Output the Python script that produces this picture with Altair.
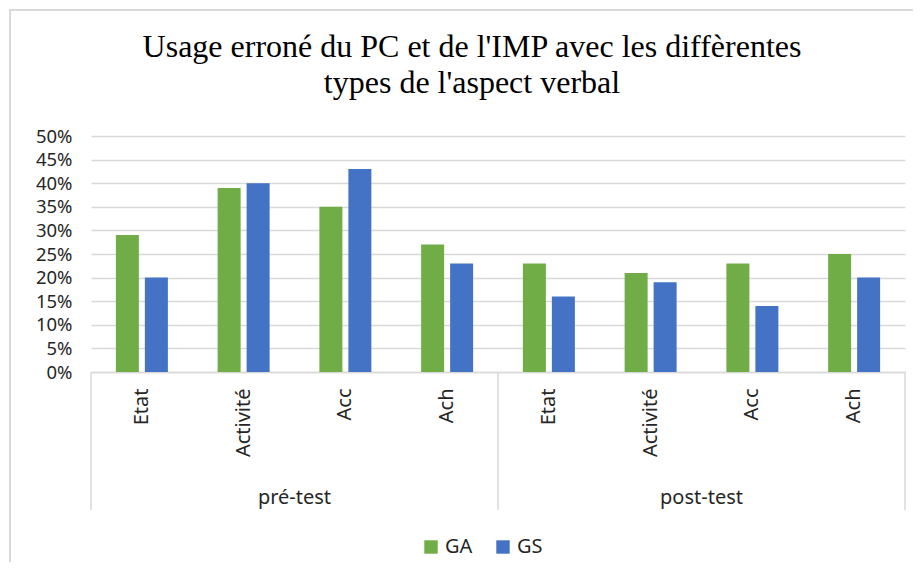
import altair as alt
import pandas as pd

# ---- data ----
groups = ["pré-test", "post-test"]
categories = ["Etat", "Activité", "Acc", "Ach"]
series = ["GA", "GS"]
ga_values = [0.29, 0.39, 0.35, 0.27, 0.23, 0.21, 0.23, 0.25]
gs_values = [0.20, 0.40, 0.43, 0.23, 0.16, 0.19, 0.14, 0.20]
y_ticks = [0, 0.05, 0.10, 0.15, 0.20, 0.25, 0.30, 0.35, 0.40, 0.45, 0.50]
colors = ["#70AD47", "#4472C4"]

keys = [f"{g}|{c}" for g in groups for c in categories]
rows = []
for i, k in enumerate(keys):
    rows.append({"key": k, "serie": "GA", "value": ga_values[i]})
    rows.append({"key": k, "serie": "GS", "value": gs_values[i]})
df = pd.DataFrame(rows)

W, H = 814, 236
FONT = "Noto Sans"
TXT = "#262626"
GRID = "#d9d9d9"

xscale = alt.Scale(domain=keys, paddingInner=0, paddingOuter=0)

bars = alt.Chart(df).mark_bar().encode(
    x=alt.X("key:N", scale=xscale, sort=keys,
            axis=alt.Axis(title=None, labelAngle=-90, labelExpr="split(datum.label, '|')[1]",
                          ticks=False, domainColor=GRID, domainWidth=1.5,
                          labelFont=FONT, labelFontSize=20, labelColor=TXT, labelPadding=16,
                          labelBaseline="middle")),
    xOffset=alt.XOffset("serie:N", sort=series,
                        scale=alt.Scale(paddingInner=0.207, paddingOuter=0.858)),
    y=alt.Y("value:Q", scale=alt.Scale(domain=[0, 0.5]),
            axis=alt.Axis(title=None, values=y_ticks, format=".0%", ticks=False, domain=False,
                          gridColor=GRID, gridWidth=1.5,
                          labelFont=FONT, labelFontSize=18.5, labelColor=TXT, labelPadding=19)),
    color=alt.Color("serie:N", sort=series,
                    scale=alt.Scale(domain=series, range=colors),
                    legend=alt.Legend(title=None, orient="none", legendX=330, legendY=401,
                                      direction="horizontal", symbolType="square",
                                      symbolSize=180, symbolStrokeWidth=0,
                                      labelFont=FONT, labelFontSize=20, labelColor=TXT,
                                      columnPadding=20, labelOffset=4)),
)

sep_start = pd.DataFrame({"key": ["pré-test|Etat", "post-test|Etat"]})
sep_end = pd.DataFrame({"key": ["post-test|Ach"]})
rule_start = alt.Chart(sep_start).mark_rule(color=GRID, strokeWidth=1.5).encode(
    x=alt.X("key:N", scale=xscale, sort=keys, bandPosition=0),
    y=alt.value(H), y2=alt.value(H + 138))
rule_end = alt.Chart(sep_end).mark_rule(color=GRID, strokeWidth=1.5).encode(
    x=alt.X("key:N", scale=xscale, sort=keys, bandPosition=1),
    y=alt.value(H), y2=alt.value(H + 138))

grp = pd.DataFrame({"key": [f"{g}|Activité" for g in groups], "label": groups})
grp_text = alt.Chart(grp).mark_text(font=FONT, fontSize=20, color=TXT, baseline="middle").encode(
    x=alt.X("key:N", scale=xscale, sort=keys, bandPosition=1),
    y=alt.value(H + 126), text="label:N")

frame = alt.Chart(pd.DataFrame({"a": [0]})).mark_rect(fill=None, stroke=GRID, strokeWidth=2).encode(
    x=alt.value(-81), x2=alt.value(W + 40), y=alt.value(-126), y2=alt.value(H + 300))

chart = alt.layer(frame, bars, rule_start, rule_end, grp_text).properties(
    width=W, height=H,
    autosize=alt.AutoSizeParams(type="none"),
    padding={"left": 83, "top": 128, "right": 8, "bottom": 190},
    title=alt.TitleParams(
        text=["Usage erroné du PC et de l'IMP avec les diffèrentes", "types de l'aspect verbal"],
        font="Liberation Serif", fontSize=32, fontWeight="normal", color="#000000",
        anchor="middle", offset=-91, dx=-26, lineHeight=36),
).configure_view(stroke=None)

chart.save("out.html", embed_options={"renderer": "svg", "actions": False})
